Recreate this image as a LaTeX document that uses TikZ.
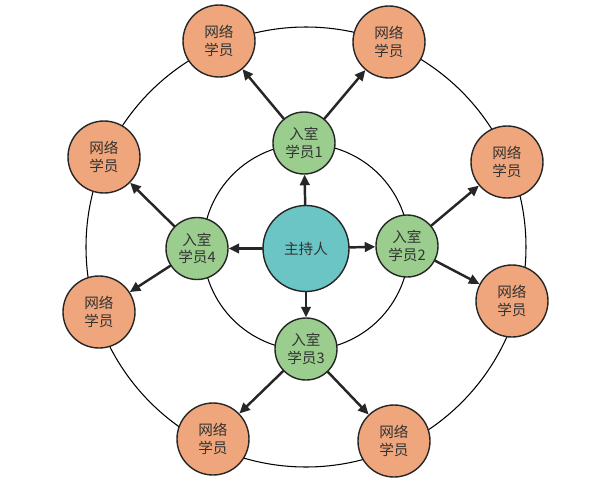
\documentclass[tikz,border=0pt]{standalone}
\usepackage{fontspec}
\newfontfamily\cjk{Noto Sans CJK SC}
\usetikzlibrary{arrows.meta}
\definecolor{hostc}{RGB}{108,197,197}
\definecolor{roomc}{RGB}{154,205,142}
\definecolor{netc}{RGB}{239,166,124}

\begin{document}
\begin{tikzpicture}[x=1cm,y=1cm,line cap=round,line join=round,
  member/.style={circle,draw=black!85,line width=.8pt,inner sep=0pt,
    align=center,font=\cjk\fontsize{8.3}{10}\selectfont,text=black!80},
  host/.style={member,fill=hostc,minimum size=1.72cm},
  room/.style={member,fill=roomc,minimum size=1.24cm},
  net/.style={member,fill=netc,minimum size=1.44cm},
  arr/.style={draw=black!85,line width=1.4pt,-{Triangle[length=6pt,width=5.5pt]}}]
  \useasboundingbox (-6.12,-4.66) rectangle (5.88,4.94);
  \draw[line width=.6pt] (0,0) circle (2.06);
  \draw[line width=.6pt] (0,0) circle (4.4);
  \node[host] (host) at (0,-0.03) {主持人};
  \node[room] (r1) at (-0.04,2.08) {入室\\学员1};
  \node[room] (r2) at (2.02,0.02) {入室\\学员2};
  \node[room] (r3) at (0,-2.04) {入室\\学员3};
  \node[room] (r4) at (-2.18,-0.03) {入室\\学员4};
  \node[net] (n1) at (-1.74,4.12) {网络\\学员};
  \node[net] (n2) at (1.66,4.10) {网络\\学员};
  \node[net] (n3) at (4.02,1.70) {网络\\学员};
  \node[net] (n4) at (4.12,-1.08) {网络\\学员};
  \node[net] (n5) at (1.76,-3.88) {网络\\学员};
  \node[net] (n6) at (-1.86,-3.84) {网络\\学员};
  \node[net] (n7) at (-4.14,-1.30) {网络\\学员};
  \node[net] (n8) at (-4.04,1.80) {网络\\学员};
  \draw[arr] (host) -- (r1);
  \draw[arr] (host) -- (r2);
  \draw[arr] (host) -- (r3);
  \draw[arr] (host) -- (r4);
  \draw[arr] (r1) -- (n1);
  \draw[arr] (r1) -- (n2);
  \draw[arr] (r2) -- (n3);
  \draw[arr] (r2) -- (n4);
  \draw[arr] (r3) -- (n5);
  \draw[arr] (r3) -- (n6);
  \draw[arr] (r4) -- (n7);
  \draw[arr] (r4) -- (n8);
\end{tikzpicture}
\end{document}
